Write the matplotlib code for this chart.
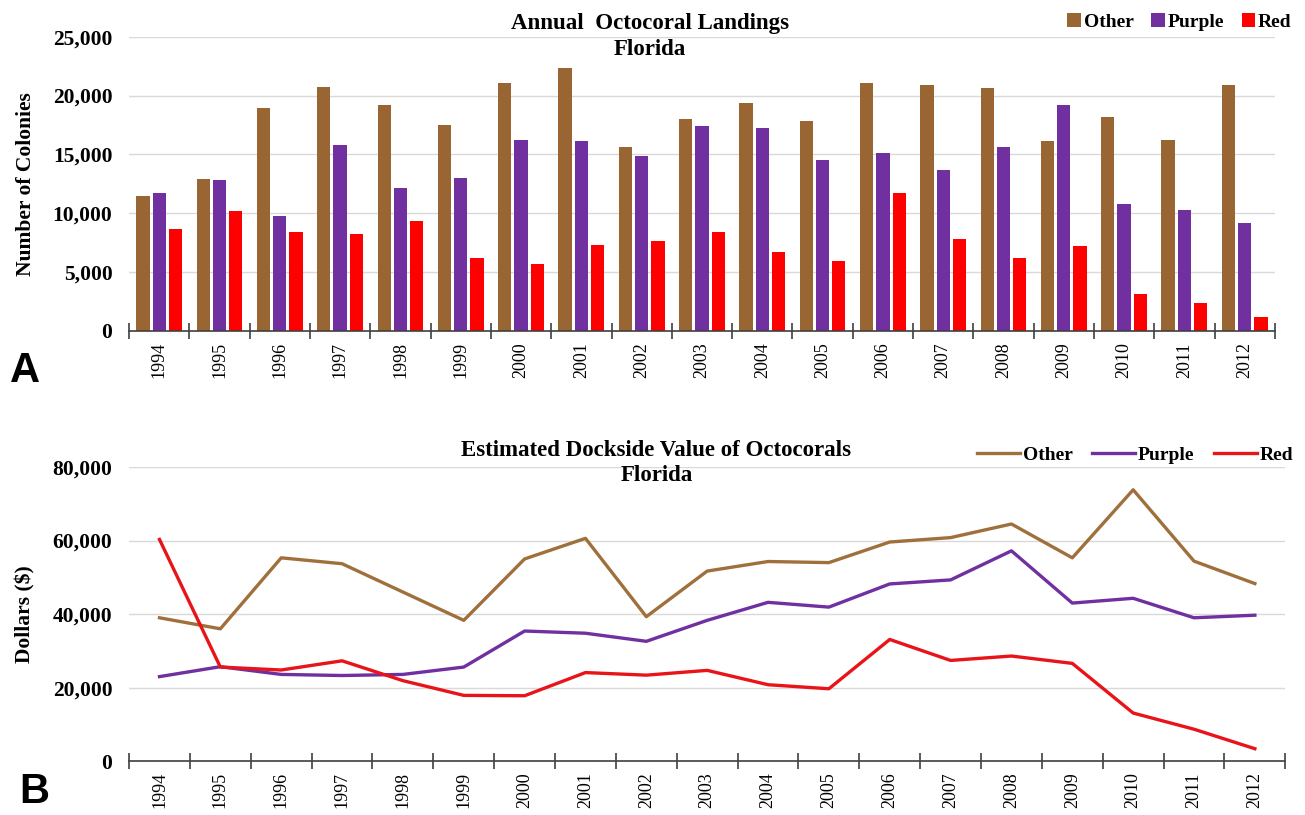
import numpy as np
import matplotlib
matplotlib.use("Agg")
import matplotlib.pyplot as plt
from matplotlib.ticker import FuncFormatter, FixedLocator

years = list(range(1994, 2013))

# panel A: annual landings (number of colonies)
other_cnt  = [11500, 12900, 18900, 20700, 19200, 17500, 21100, 22300, 15600, 18000,
              19400, 17800, 21100, 20900, 20600, 16100, 18200, 16200, 20900]
purple_cnt = [11700, 12800, 9800, 15800, 12100, 13000, 16200, 16100, 14900, 17400,
              17200, 14500, 15100, 13700, 15600, 19200, 10800, 10300, 9200]
red_cnt    = [8700, 10200, 8400, 8200, 9300, 6200, 5700, 7300, 7600, 8400,
              6700, 5900, 11700, 7800, 6200, 7200, 3100, 2400, 1200]

# panel B: dockside value (dollars)
other_val  = [39000, 36000, 55300, 53700, 46000, 38300, 55000, 60600, 39300, 51700,
              54300, 54000, 59600, 60800, 64500, 55300, 73800, 54400, 48300]
purple_val = [23000, 25700, 23600, 23300, 23600, 25600, 35400, 34800, 32600, 38300,
              43200, 41900, 48200, 49300, 57200, 43000, 44300, 39000, 39700]
red_val    = [60300, 25600, 24800, 27300, 21900, 17900, 17800, 24100, 23400, 24700,
              20800, 19700, 33100, 27400, 28600, 26600, 13100, 8700, 3400]

series = ["Other", "Purple", "Red"]
bar_cols = ["#996633", "#7030A0", "#FF0000"]
line_cols = ["#A0703C", "#7030A0", "#E8141A"]

plt.rcParams["font.family"] = "Liberation Serif"
plt.rcParams["font.weight"] = "bold"

fig = plt.figure(figsize=(13.05, 8.15), dpi=100)
axA = fig.add_axes([0.0989, 0.594, 0.878, 0.361])
axB = fig.add_axes([0.0989, 0.066, 0.886, 0.361])

x = np.arange(len(years))
fmt = FuncFormatter(lambda v, p: f"{int(v):,}")

def style_axis(ax, ymax, ystep):
    ax.set_xlim(-0.5, len(years) - 0.5)
    ax.set_ylim(0, ymax)
    ax.set_yticks(np.arange(0, ymax + 1, ystep))
    ax.yaxis.set_major_formatter(fmt)
    ax.grid(axis="y", color="#D9D9D9", lw=1.0)
    ax.set_axisbelow(True)
    for s in ["top", "right", "left"]:
        ax.spines[s].set_visible(False)
    ax.spines["bottom"].set_color("#404040")
    ax.spines["bottom"].set_linewidth(1.2)
    ax.set_xticks(x)
    ax.set_xticklabels([str(y) for y in years], rotation=90, fontsize=13,
                       fontweight="normal")
    ax.tick_params(axis="x", which="major", length=0, pad=8)
    ax.xaxis.set_minor_locator(FixedLocator(np.arange(-0.5, len(years), 1.0)))
    ax.tick_params(axis="x", which="minor", length=12, direction="inout",
                   color="#404040", width=1.2)
    ax.tick_params(axis="y", length=0, labelsize=15.5, pad=12)

# --- panel A: bars
w = 0.22
step = 0.27
for i, (vals, c, name) in enumerate(zip([other_cnt, purple_cnt, red_cnt], bar_cols, series)):
    axA.bar(x + (i - 1) * step, vals, width=w, color=c, label=name)
style_axis(axA, 25000, 5000)
axA.set_ylabel("Number of Colonies", fontsize=15.5, fontweight="bold", labelpad=12)
axA.legend(loc="upper right", bbox_to_anchor=(1.03, 1.14), ncol=3, frameon=False,
           fontsize=14, handlelength=0.7, handleheight=0.7, handletextpad=0.15,
           columnspacing=0.9)
fig.text(0.498, 0.955, "Annual  Octocoral Landings\nFlorida", ha="center", va="center",
         fontsize=16.5, fontweight="bold", linespacing=1.3)

# --- panel B: lines
for vals, c, name in zip([other_val, purple_val, red_val], line_cols, series):
    axB.plot(x, vals, color=c, lw=2.4, label=name)
style_axis(axB, 80000, 20000)
axB.set_ylabel("Dollars ($)", fontsize=15.5, fontweight="bold", labelpad=12)
axB.legend(loc="upper right", bbox_to_anchor=(1.022, 1.13), ncol=3, frameon=False,
           fontsize=14, handlelength=2.2, handletextpad=0.15, columnspacing=1.0)
fig.text(0.503, 0.432, "Estimated Dockside Value of Octocorals\nFlorida", ha="center",
         va="center", fontsize=16.5, fontweight="bold", linespacing=1.3)

fig.text(0.008, 0.545, "A", fontfamily="Liberation Sans", fontweight="bold", fontsize=30,
         va="center")
fig.text(0.015, 0.028, "B", fontfamily="Liberation Sans", fontweight="bold", fontsize=30,
         va="center")

fig.savefig("out.png", dpi=100)
